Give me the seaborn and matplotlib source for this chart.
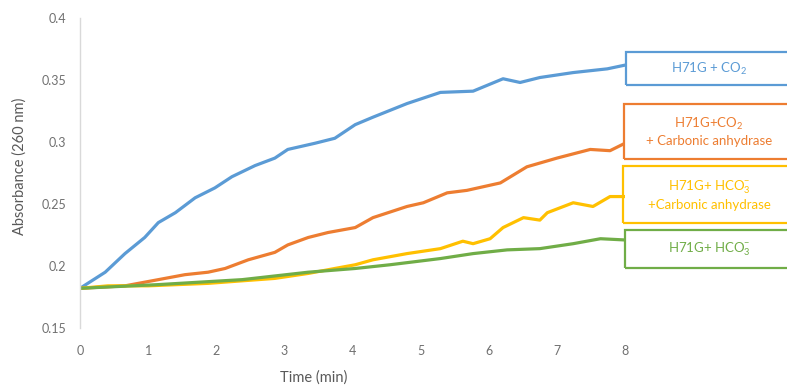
import numpy as np
import pandas as pd
import matplotlib
matplotlib.use("Agg")
import matplotlib.pyplot as plt
import seaborn as sns
from matplotlib.patches import Rectangle

# values (time in min, absorbance at 260 nm)
t_co2 = [0, 0.37, 0.66, 0.95, 1.15, 1.40, 1.69, 1.98, 2.23, 2.57, 2.86, 3.05, 3.45, 3.74,
         4.04, 4.30, 4.80, 5.29, 5.77, 6.21, 6.46, 6.75, 7.24, 7.74, 8.0]
a_co2 = [0.182, 0.195, 0.210, 0.223, 0.235, 0.243, 0.255, 0.263, 0.272, 0.281, 0.287, 0.294, 0.299, 0.303,
         0.314, 0.320, 0.331, 0.340, 0.341, 0.351, 0.348, 0.352, 0.356, 0.359, 0.362]

t_co2_ca = [0, 0.66, 1.15, 1.54, 1.88, 2.13, 2.47, 2.86, 3.05, 3.35, 3.64, 4.04, 4.30, 4.80,
            5.04, 5.39, 5.68, 6.17, 6.56, 7.0, 7.49, 7.78, 8.0]
a_co2_ca = [0.182, 0.184, 0.189, 0.193, 0.195, 0.198, 0.205, 0.211, 0.217, 0.223, 0.227, 0.231, 0.239, 0.248,
            0.251, 0.259, 0.261, 0.267, 0.280, 0.287, 0.294, 0.293, 0.299]

t_hco3_ca = [0, 0.41, 1.0, 1.88, 2.86, 3.35, 3.74, 4.04, 4.30, 4.80, 5.29, 5.62, 5.77, 6.02,
             6.21, 6.51, 6.75, 6.86, 7.24, 7.53, 7.78, 8.0]
a_hco3_ca = [0.182, 0.184, 0.184, 0.186, 0.190, 0.194, 0.198, 0.201, 0.205, 0.210, 0.214, 0.220, 0.218, 0.222,
             0.231, 0.239, 0.237, 0.243, 0.251, 0.248, 0.256, 0.256]

t_hco3 = [0, 1.15, 2.38, 3.35, 4.04, 4.55, 5.29, 5.77, 6.27, 6.75, 7.24, 7.64, 8.0]
a_hco3 = [0.182, 0.185, 0.189, 0.195, 0.198, 0.201, 0.206, 0.210, 0.213, 0.214, 0.218, 0.222, 0.221]

labels = ["H71G + CO$_2$",
          "H71G+CO$_2$\n+ Carbonic anhydrase",
          "H71G+ HCO$_3^{-}$\n+Carbonic anhydrase",
          "H71G+ HCO$_3^{-}$"]
colors = ["#5B9BD5", "#ED7D31", "#FFC000", "#70AD47"]

series = ["co2", "co2_ca", "hco3_ca", "hco3"]
times = [t_co2, t_co2_ca, t_hco3_ca, t_hco3]
values = [a_co2, a_co2_ca, a_hco3_ca, a_hco3]

df = pd.concat([pd.DataFrame({"Time": t, "Abs": v, "Series": s})
                for s, t, v in zip(series, times, values)], ignore_index=True)

sns.set_style("white")
plt.rcParams["font.family"] = ["Lato", "DejaVu Sans"]
plt.rcParams["mathtext.fontset"] = "custom"
plt.rcParams["mathtext.rm"] = "Lato"
plt.rcParams["mathtext.it"] = "Lato"
plt.rcParams["mathtext.bf"] = "Lato"

fig = plt.figure(figsize=(7.87, 3.88), dpi=100)
ax = fig.add_axes([80 / 787, 1 - 328 / 388, 545 / 787, 310 / 388])

sns.lineplot(data=df, x="Time", y="Abs", hue="Series", palette=dict(zip(series, colors)),
             estimator=None, sort=True, linewidth=2.3, legend=False, ax=ax)

ax.set_xlim(0, 8)
ax.set_ylim(0.15, 0.4)
ax.set_xticks(range(0, 9))
ax.set_yticks([0.15, 0.2, 0.25, 0.3, 0.35, 0.4])
ax.set_yticklabels(["0.15", "0.2", "0.25", "0.3", "0.35", "0.4"])
ax.tick_params(axis="both", length=0, labelsize=9, labelcolor="#707070")
ax.tick_params(axis="y", pad=10)
ax.tick_params(axis="x", pad=12)
ax.set_xlabel("")
ax.set_ylabel("")
for side in ["top", "right", "bottom"]:
    ax.spines[side].set_visible(False)
ax.spines["left"].set_color("#d9d9d9")
ax.spines["left"].set_linewidth(1)

fig.text(314 / 787, 1 - 378 / 388, "Time (min)", ha="center", va="center",
         fontsize=10.5, color="#595959")
fig.text(20 / 787, 1 - 166 / 388, "Absorbance (260 nm)", ha="center", va="center",
         rotation=90, fontsize=10.5, color="#595959")

# label boxes on the right
boxes = [(626, 52, 85), (624, 104, 159), (623, 166, 223), (625, 230, 268)]
for (x0, top, bot), lab, c in zip(boxes, labels, colors):
    r = Rectangle((x0 / 787, 1 - bot / 388), (800 - x0) / 787, (bot - top) / 388,
                  transform=fig.transFigure, fill=False, edgecolor=c, linewidth=1.6,
                  clip_on=False)
    fig.add_artist(r)
    fig.text(709 / 787, 1 - (top + bot) / 2 / 388, lab, ha="center", va="center",
             fontsize=9.5, color=c, linespacing=1.3)

fig.savefig("out.png", dpi=100)
